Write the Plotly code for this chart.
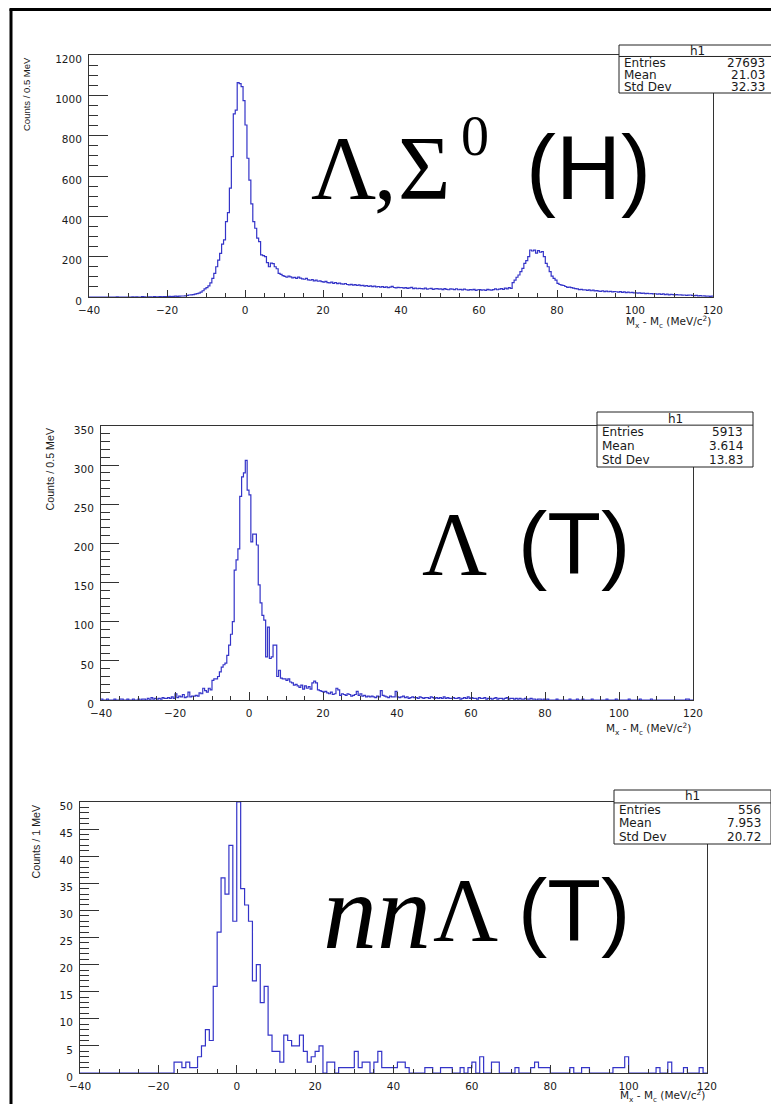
import plotly.graph_objects as go

# page size and the default 8px body margin of the written html page
PAGE_W, PAGE_H = 779, 1104
OFF = 8
W, H = PAGE_W - OFF, PAGE_H - OFF

# ---------------- data ----------------
x_start = -40.0
h1_bin = 0.5
h1_counts = [
    0, 0, 0, 0, 0, 0, 0, 0, 0, 0,            # -40..-35
    0, 0, 0, 0, 1, 0, 0, 0, 0, 0,            # -35..-30
    0, 0, 1, 0, 1, 0, 0, 2, 1, 0,            # -30..-25
    1, 1, 0, 2, 1, 1, 2, 1, 2, 2,            # -25..-20
    2, 3, 2, 3, 4, 3, 4, 5, 5, 6,            # -20..-15
    8, 10, 11, 12, 14, 17, 19, 24, 31, 40,   # -15..-10
    46, 55, 70, 92, 117, 150, 183, 216, 262, 283,       # -10..-5
    374, 418, 540, 696, 908, 927, 1063, 1058, 1043, 974,  # -5..0
    853, 688, 580, 462, 374, 341, 292, 275, 209, 205,   # 0..5
    200, 170, 150, 168, 165, 150, 140, 117, 112, 106,   # 5..10
    102, 98, 104, 100, 95, 97, 92, 99, 94, 90,          # 10..15
    88, 92, 85, 83, 86, 80, 84, 78, 80, 76,             # 15..20
    74, 77, 71, 70, 74, 68, 72, 66, 69, 65,             # 20..25
    64, 67, 62, 60, 63, 59, 61, 57, 60, 56,             # 25..30
    58, 54, 57, 52, 55, 51, 54, 50, 52, 49,             # 30..35
    51, 48, 50, 46, 49, 53, 47, 45, 48, 46,             # 35..40
    47, 44, 46, 43, 45, 48, 42, 44, 41, 43,             # 40..45
    42, 40, 44, 39, 41, 43, 38, 40, 42, 39,             # 45..50
    40, 37, 42, 38, 36, 40, 39, 37, 41, 36,             # 50..55
    38, 35, 39, 36, 34, 37, 35, 38, 33, 36,             # 55..60
    37, 34, 36, 33, 38, 35, 34, 37, 40, 36,             # 60..65
    39, 42, 38, 44, 40, 46, 43, 71, 84, 98,             # 65..70
    109, 126, 142, 167, 180, 200, 233, 228, 232, 218,   # 70..75
    230, 222, 225, 200, 167, 150, 126, 104, 92, 84,     # 75..80
    68, 62, 59, 57, 52, 48, 49, 46, 44, 42,             # 80..85
    40, 37, 38, 35, 36, 33, 35, 31, 34, 30,             # 85..90
    32, 29, 28, 31, 27, 29, 26, 28, 25, 27,             # 90..95
    26, 24, 27, 23, 25, 22, 24, 21, 23, 20,             # 95..100
    21, 19, 20, 18, 19, 17, 18, 16, 17, 15,             # 100..105
    16, 14, 15, 13, 15, 12, 14, 11, 13, 12,             # 105..110
    11, 12, 10, 11, 9, 10, 8, 9, 10, 8,                 # 110..115
    7, 8, 6, 7, 5, 6, 4, 5, 3, 4,                       # 115..120
]

h2_bin = 0.5
h2_counts = [
    1, 0, 0, 1, 0, 0, 0, 1, 0, 0,            # -40..-35
    1, 1, 0, 0, 1, 0, 0, 1, 0, 0,            # -35..-30
    1, 0, 1, 1, 0, 2, 0, 3, 1, 2,            # -30..-25
    1, 2, 1, 3, 2, 2, 3, 2, 4, 2,            # -25..-20
    8, 3, 5, 4, 7, 3, 4, 10, 4, 5,           # -20..-15
    5, 6, 5, 9, 8, 15, 12, 10, 15, 13,       # -15..-10
    25, 27, 27, 30, 36, 42, 45, 47, 57, 70,  # -10..-5
    84, 100, 166, 179, 193, 260, 285, 290, 306, 268,   # -5..0
    262, 202, 212, 212, 198, 147, 124, 108, 102, 55,   # 0..5
    93, 53, 55, 70, 70, 30, 38, 28, 27, 27,            # 5..10
    25, 27, 23, 22, 19, 20, 18, 16, 19, 14,            # 10..15
    18, 15, 17, 14, 22, 24, 22, 13, 12, 11,            # 15..20
    10, 11, 9, 8, 10, 7, 8, 15, 13, 6,                 # 20..25
    8, 7, 6, 8, 7, 5, 6, 7, 11, 6,                     # 25..30
    8, 5, 6, 4, 5, 4, 5, 4, 3, 5,                      # 30..35
    4, 12, 6, 5, 4, 3, 5, 4, 4, 11,                    # 35..40
    4, 3, 4, 5, 3, 4, 2, 3, 4, 3,                      # 40..45
    3, 2, 4, 3, 2, 3, 3, 2, 4, 3,                      # 45..50
    2, 3, 2, 3, 2, 4, 2, 3, 2, 2,                      # 50..55
    3, 2, 2, 3, 1, 2, 3, 2, 4, 2,                      # 55..60
    3, 2, 2, 1, 3, 2, 2, 3, 1, 2,                      # 60..65
    2, 1, 2, 3, 1, 2, 2, 1, 2, 3,                      # 65..70
    1, 2, 2, 1, 2, 1, 2, 1, 1, 2,                      # 70..75
    1, 1, 2, 1, 1, 0, 1, 1, 0, 1,                      # 75..80
    0, 1, 0, 0, 0, 0, 1, 0, 0, 0,                      # 80..85
    0, 0, 0, 1, 0, 0, 0, 1, 0, 0,                      # 85..90
    1, 0, 0, 0, 0, 1, 0, 0, 0, 0,                      # 90..95
    0, 0, 0, 1, 0, 0, 0, 0, 1, 0,                      # 95..100
    0, 0, 0, 0, 0, 1, 0, 0, 0, 0,                      # 100..105
    0, 1, 0, 0, 0, 0, 0, 1, 0, 0,                      # 105..110
    0, 0, 0, 0, 0, 0, 0, 0, 0, 0,                      # 110..115
    0, 0, 0, 0, 0, 0, 1, 1, 0, 0,                      # 115..120
]

h3_bin = 1.0
h3_counts = [
    0, 0, 0, 0, 0, 0, 0, 0, 0, 0,       # -40..-30
    0, 0, 0, 0, 0, 0, 0, 0, 0, 0,       # -30..-20
    0, 0, 0, 0, 2, 2, 1, 2, 1, 1,       # -20..-10
    3, 5, 8, 6, 16, 26, 36, 33, 42, 28, # -10..0
    50, 34, 31, 28, 17, 20, 13, 16, 7, 4,  # 0..10
    4, 2, 7, 6, 5, 5, 7, 4, 2, 3,       # 10..20
    4, 5, 0, 2, 2, 0, 1, 1, 1, 1,       # 20..30
    4, 1, 2, 2, 0, 2, 4, 1, 1, 1,       # 30..40
    1, 2, 2, 1, 0, 0, 0, 0, 1, 1,       # 40..50
    0, 0, 1, 1, 1, 0, 0, 1, 0, 1,       # 50..60
    2, 0, 3, 0, 0, 2, 2, 0, 0, 0,       # 60..70
    0, 1, 0, 0, 0, 1, 2, 1, 1, 1,       # 70..80
    0, 0, 0, 0, 0, 1, 0, 0, 1, 1,       # 80..90
    0, 0, 0, 0, 0, 0, 1, 1, 1, 3,       # 90..100
    0, 0, 0, 0, 0, 0, 0, 1, 0, 0,       # 100..110
    2, 0, 0, 0, 1, 0, 0, 0, 1, 0,       # 110..120
]

y_titles = ["Counts / 0.5 MeV", "Counts / 0.5 MeV", "Counts / 1 MeV"]
stat_names = ["Entries", "Mean", "Std Dev"]
stat_values = [["27693", "21.03", "32.33"], ["5913", "3.614", "13.83"], ["556", "7.953", "20.72"]]
y_max = [1200, 350, 50]
y_major = [200, 50, 5]
y_minor = [50, 10, 1]
x_range = [-40, 120]
x_title = "M<sub>x</sub> - M<sub>c</sub> (MeV/c<sup>2</sup>)"

# ---------------- layout geometry (page pixels) ----------------
frames = [(89, 713, 55, 297), (101, 693, 426, 700), (80, 707, 802, 1073)]
stat_boxes = [(619, 775, 45, 93), (597, 753, 412, 467), (614, 771, 790, 844)]
ytitle_x = [26, 49, 35]
ytitle_size = [9.5, 10.7, 10.7]
xtitle_y = [322, 729, 1096]

def px(x):
    return (x - OFF) / W

def py(y):
    return 1 - (y - OFF) / H

LINE = "#3434c8"
AX = "#333333"
TXT = "#1a1a1a"
TICKFONT = dict(family="DejaVu Sans", size=10.5, color=TXT)

fig = go.Figure()
counts_list = [h1_counts, h2_counts, h3_counts]
bins = [h1_bin, h2_bin, h3_bin]

for k in range(3):
    c = counts_list[k]
    b = bins[k]
    xs = [x_start + i * b for i in range(len(c) + 1)]
    ys = c + [c[-1]]
    sfx = "" if k == 0 else str(k + 1)
    fig.add_trace(go.Scatter(
        x=xs, y=ys, mode="lines", line=dict(color=LINE, width=1.2, shape="hv"),
        xaxis="x" + sfx, yaxis="y" + sfx, showlegend=False, hoverinfo="skip"))

layout = dict(
    width=W, height=H, paper_bgcolor="white", plot_bgcolor="white",
    margin=dict(l=0, r=0, t=0, b=0, autoexpand=False), showlegend=False,
)

for k in range(3):
    x0, x1, y0, y1 = frames[k]
    sfx = "" if k == 0 else str(k + 1)
    fh = y1 - y0
    fw = x1 - x0
    layout["xaxis" + sfx] = dict(
        domain=[px(x0), px(x1)], anchor="y" + sfx, range=x_range, automargin=False,
        showline=True, linecolor=AX, linewidth=1, mirror=True,
        ticks="inside", ticklen=round(0.03 * fh), tickcolor=AX, tickwidth=1,
        tickmode="linear", tick0=-40, dtick=20,
        minor=dict(ticks="inside", ticklen=round(0.015 * fh), dtick=5, tickcolor=AX, tickwidth=1),
        showgrid=False, zeroline=False,
        tickfont=TICKFONT, ticklabelstandoff=3,
    )
    layout["yaxis" + sfx] = dict(
        domain=[py(y1), py(y0)], anchor="x" + sfx, range=[0, y_max[k]], automargin=False,
        showline=True, linecolor=AX, linewidth=1, mirror=True,
        ticks="inside", ticklen=round(0.03 * fw), tickcolor=AX, tickwidth=1,
        tickmode="linear", tick0=0, dtick=y_major[k],
        minor=dict(ticks="inside", ticklen=round(0.015 * fw), dtick=y_minor[k], tickcolor=AX, tickwidth=1),
        showgrid=False, zeroline=False,
        tickfont=TICKFONT, ticklabelstandoff=4, ticklabelshift=4,
    )

fig.update_layout(**layout)

shapes = []
annos = []

# outer frame (left and top)
shapes.append(dict(type="line", xref="paper", yref="paper", x0=px(11), x1=px(11), y0=py(9), y1=py(PAGE_H),
                   line=dict(color="black", width=3)))
shapes.append(dict(type="line", xref="paper", yref="paper", x0=px(9.5), x1=px(PAGE_W), y0=py(9.5), y1=py(9.5),
                   line=dict(color="black", width=3)))

for k in range(3):
    x0, x1, y0, y1 = frames[k]
    # y title
    annos.append(dict(text=y_titles[k], xref="paper", yref="paper", x=px(ytitle_x[k]), y=py(y0),
                      xanchor="center", yanchor="top", textangle=-90, showarrow=False,
                      font=dict(family="Liberation Sans", size=ytitle_size[k], color=TXT)))
    # x title
    annos.append(dict(text=x_title, xref="paper", yref="paper", x=px(x1), y=py(xtitle_y[k]),
                      xanchor="right", yanchor="middle", showarrow=False,
                      font=dict(family="DejaVu Sans", size=10.5, color=TXT)))
    # stats box
    bx0, bx1, by0, by1 = stat_boxes[k]
    shapes.append(dict(type="rect", xref="paper", yref="paper", x0=px(bx0), x1=px(bx1), y0=py(by1), y1=py(by0),
                       fillcolor="white", line=dict(color="#222", width=1), layer="above"))
    rh = (by1 - by0) / 4.6
    hy = by0 + 1.1 * rh
    shapes.append(dict(type="line", xref="paper", yref="paper", x0=px(bx0), x1=px(bx1), y0=py(hy), y1=py(hy),
                       line=dict(color="#222", width=1), layer="above"))
    annos.append(dict(text="h1", xref="paper", yref="paper", x=px((bx0 + bx1) / 2), y=py(by0 + 0.55 * rh),
                      xanchor="center", yanchor="middle", showarrow=False,
                      font=dict(family="DejaVu Sans", size=12, color=TXT)))
    for j in range(3):
        yy = hy + (j + 0.5) * (by1 - hy) / 3
        annos.append(dict(text=stat_names[j], xref="paper", yref="paper", x=px(bx0 + 3), y=py(yy),
                          xanchor="left", yanchor="middle", showarrow=False,
                          font=dict(family="DejaVu Sans", size=12, color=TXT)))
        annos.append(dict(text=stat_values[k][j], xref="paper", yref="paper", x=px(bx1 - 8), y=py(yy),
                          xanchor="right", yanchor="middle", showarrow=False,
                          font=dict(family="DejaVu Sans", size=12, color=TXT)))

# big labels
SERIF = "Liberation Serif"
SANS = "Liberation Sans"

def big(text, x, y, fam, size):
    annos.append(dict(text=text, xref="paper", yref="paper", x=px(x), y=py(y), xanchor="left",
                      yanchor="middle", showarrow=False, font=dict(family=fam, size=size, color="black")))

big("Λ", 309, 168, SERIF, 90)
big(",", 372, 168, SERIF, 90)
big("Σ", 396, 168, SERIF, 90)
big("0", 459, 136, SERIF, 56)
big("(H)", 524, 168, SANS, 90)

big("Λ", 420, 544, SERIF, 90)
big("(T)", 516, 542, SANS, 88)

big("<i>nn</i>", 321, 911, SERIF, 108)
big("Λ", 431, 910, SERIF, 90)
big("(T)", 516, 909, SANS, 88)

fig.update_layout(shapes=shapes, annotations=annos)
fig.write_html("out.html")
